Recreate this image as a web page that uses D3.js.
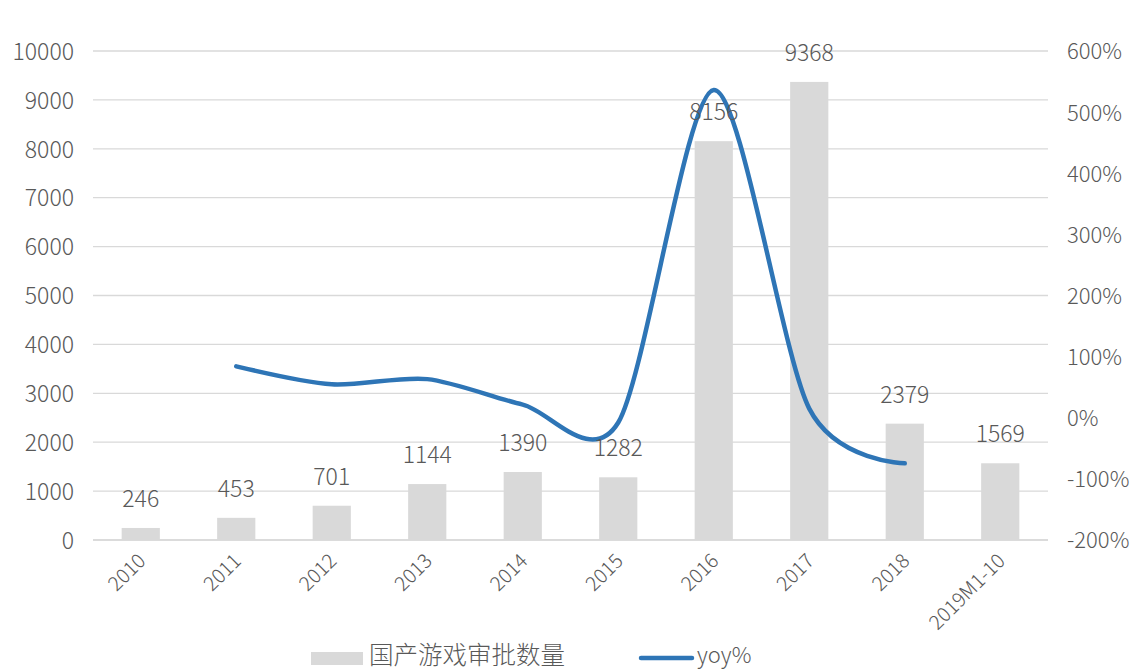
<!DOCTYPE html>
<html>
<head>
<meta charset="utf-8">
<script src="https://cdn.jsdelivr.net/npm/d3@7"></script>
<style>
  html, body { margin: 0; padding: 0; background: #fff; }
  svg text { font-family: "Noto Sans CJK SC", "Noto Sans", sans-serif; font-weight: 300; fill: #595959; }
</style>
</head>
<body>
<svg id="chart" width="1132" height="672"></svg>
<script>
// Annual approvals of domestic games and year-over-year growth
const categories = ["2010", "2011", "2012", "2013", "2014", "2015", "2016", "2017", "2018", "2019M1-10"];
const approvals = [246, 453, 701, 1144, 1390, 1282, 8156, 9368, 2379, 1569];
const yoyPct = [null, 84.1, 54.7, 63.2, 21.5, -7.8, 536.2, 14.9, -74.6, null];
const leftTicks = [0, 1000, 2000, 3000, 4000, 5000, 6000, 7000, 8000, 9000, 10000];
const rightTicks = [-200, -100, 0, 100, 200, 300, 400, 500, 600];
const seriesNames = ["国产游戏审批数量", "yoy%"];

const svg = d3.select("#chart");
const plot = { left: 93, right: 1048, top: 51, bottom: 540 };

const x = d3.scaleBand().domain(categories).range([plot.left, plot.right]).paddingInner(0.6).paddingOuter(0.3);
const yL = d3.scaleLinear().domain([0, 10000]).range([plot.bottom, plot.top]);
const yR = d3.scaleLinear().domain([-200, 600]).range([plot.bottom, plot.top]);

// Horizontal gridlines
svg.append("g").selectAll("line").data(leftTicks).join("line")
  .attr("x1", plot.left).attr("x2", plot.right)
  .attr("y1", d => yL(d)).attr("y2", d => yL(d))
  .attr("stroke", "#d9d9d9").attr("stroke-width", 1.3);

// Left axis labels
const leftAxis = svg.append("g").attr("transform", `translate(${plot.left},0)`)
  .call(d3.axisLeft(yL).tickValues(leftTicks).tickSize(0).tickPadding(19).tickFormat(d3.format("d")));
leftAxis.select(".domain").remove();
leftAxis.selectAll("text").attr("font-size", 23).attr("dy", "0.36em")
  .style("font-family", '"Noto Sans CJK SC", sans-serif').style("font-weight", 300).style("fill", "#595959");

// Right axis labels
const rightAxis = svg.append("g").attr("transform", `translate(${plot.right},0)`)
  .call(d3.axisRight(yR).tickValues(rightTicks).tickSize(0).tickPadding(19).tickFormat(d => d + "%"));
rightAxis.select(".domain").remove();
rightAxis.selectAll("text").attr("font-size", 22).attr("dy", "0.36em")
  .style("font-family", '"Noto Sans CJK SC", sans-serif').style("font-weight", 300).style("fill", "#595959");

// Bars
svg.append("g").selectAll("rect").data(categories).join("rect")
  .attr("x", d => x(d)).attr("width", x.bandwidth())
  .attr("y", (d, i) => yL(approvals[i]))
  .attr("height", (d, i) => yL(0) - yL(approvals[i]))
  .attr("fill", "#d9d9d9");

// Baseline
svg.append("line").attr("x1", plot.left).attr("x2", plot.right)
  .attr("y1", yL(0)).attr("y2", yL(0)).attr("stroke", "#d9d9d9").attr("stroke-width", 1.3);

// Category labels, rotated
svg.append("g").selectAll("text").data(categories).join("text")
  .attr("transform", d => `translate(${x(d) + x.bandwidth() / 2 + 1},${plot.bottom + 17}) rotate(-45)`)
  .attr("text-anchor", "end").attr("dy", "0.36em")
  .attr("font-size", 20).text(d => d);

// YoY smoothed line
const line = d3.line()
  .x(d => x(d[0]) + x.bandwidth() / 2)
  .y(d => yR(d[1]))
  .curve(d3.curveCardinal.tension(0.15));
svg.append("path")
  .datum(categories.map((c, i) => [c, yoyPct[i]]).filter(d => d[1] !== null))
  .attr("d", line).attr("fill", "none")
  .attr("stroke", "#2e75b6").attr("stroke-width", 4.5).attr("stroke-linecap", "round");

// Value labels above bars
svg.append("g").selectAll("text").data(categories).join("text")
  .attr("x", d => x(d) + x.bandwidth() / 2)
  .attr("y", (d, i) => yL(approvals[i]) - 21)
  .attr("text-anchor", "middle").attr("font-size", 23)
  .text((d, i) => approvals[i]);

// Legend
const legend = svg.append("g");
legend.append("rect").attr("x", 311).attr("y", 652).attr("width", 52).attr("height", 13).attr("fill", "#d9d9d9");
legend.append("text").attr("x", 369).attr("y", 664).attr("font-size", 24.5).text(seriesNames[0]);
legend.append("line").attr("x1", 641).attr("x2", 692).attr("y1", 658).attr("y2", 658)
  .attr("stroke", "#2e75b6").attr("stroke-width", 4.5).attr("stroke-linecap", "round");
legend.append("text").attr("x", 697).attr("y", 663).attr("font-size", 22).text(seriesNames[1]);
</script>
</body>
</html>
